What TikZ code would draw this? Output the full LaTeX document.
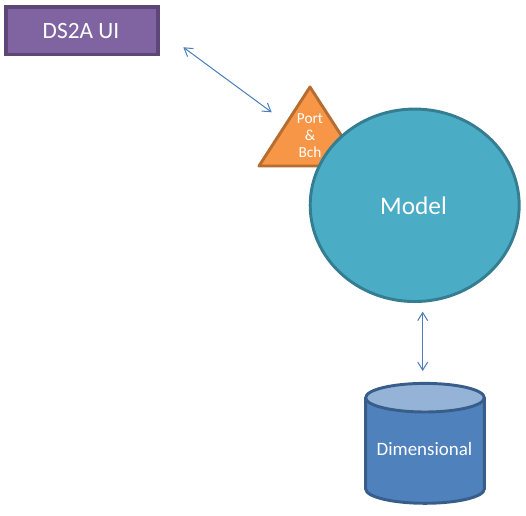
\documentclass[tikz,border=0pt]{standalone}
\usepackage{fontspec}
\setmainfont{Carlito}
\usetikzlibrary{arrows.meta,shapes.geometric}
\definecolor{uifill}{HTML}{8064A2}
\definecolor{uiline}{HTML}{5C4776}
\definecolor{trifill}{HTML}{F79646}
\definecolor{triline}{HTML}{B66D31}
\definecolor{modfill}{HTML}{4BACC6}
\definecolor{modline}{HTML}{357D91}
\definecolor{cylbody}{HTML}{4F81BD}
\definecolor{cyltop}{HTML}{95B3D7}
\definecolor{cylline}{HTML}{385D8A}
\definecolor{conn}{HTML}{4A7EBB}
\tikzset{
  lbl/.style={text=white, inner sep=0pt},
  link/.style={draw=conn, line width=0.75pt, {Straight Barb[length=6pt,width=7.5pt]}-{Straight Barb[length=6pt,width=7.5pt]}}
}
\begin{document}
\begin{tikzpicture}[x=0.75pt,y=-0.75pt]
\useasboundingbox (0,0) rectangle (526,516);
% UI box
\draw[fill=uifill, draw=uiline, line width=2.4pt] (6,7) rectangle (158,54.5);
\node[lbl, font=\fontsize{17.5}{20}\selectfont] (ui) at (81,31.5) {DS2A UI};
% triangle
\draw[fill=trifill, draw=triline, line width=2.2pt, line join=round] (310,87) -- (361,166) -- (259,166) -- cycle;
\node[lbl, align=center, font=\fontsize{11.5}{12.5}\selectfont] (tri) at (310,135.5) {Port\\\&\\Bch};
% model
\node[ellipse, fill=modfill, draw=modline, line width=2.2pt, minimum width=209pt*0.75, minimum height=192.5pt*0.75, inner sep=0pt] (modelshape) at (414.7,205.3) {};
\node[lbl, font=\fontsize{19}{22}\selectfont] (model) at (413.5,205.3) {Model};
% cylinder
\draw[fill=cylbody, draw=cylline, line width=2.2pt] (365.7,397.7) -- (365.7,489) arc[start angle=180, end angle=0, x radius=59.3, y radius=14.3] -- (484.3,397.7);
\draw[fill=cyltop, draw=cylline, line width=2.2pt] (425,397.7) ellipse[x radius=59.3, y radius=14.3];
\node[lbl, font=\fontsize{14.2}{17}\selectfont] (dim) at (424.5,449.5) {Dimensional};
% connectors
\coordinate (a1s) at (183.3,47.3);
\coordinate (a1e) at (271.7,112.3);
\coordinate (a2s) at (422.7,311.7);
\coordinate (a2e) at (422.7,371);
\draw[link] (a1s) -- (a1e);
\draw[link] (a2s) -- (a2e);
\end{tikzpicture}
\end{document}
